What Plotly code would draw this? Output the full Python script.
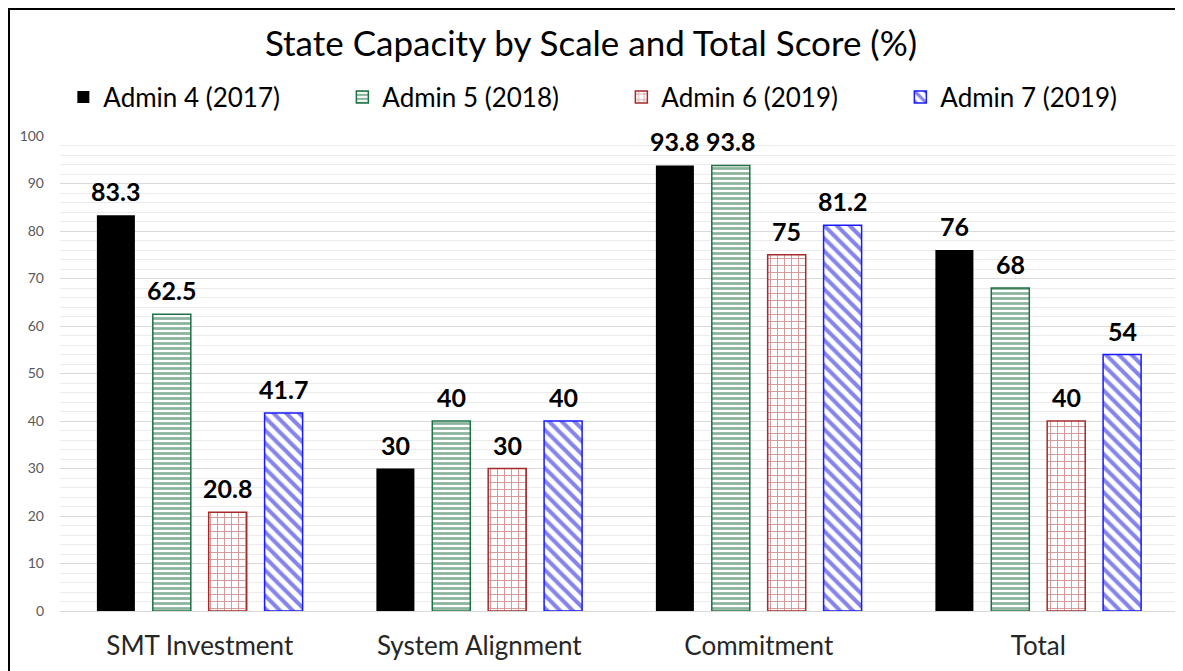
import plotly.graph_objects as go

categories = ["SMT Investment", "System Alignment", "Commitment", "Total"]
series_names = ["Admin 4 (2017)", "Admin 5 (2018)", "Admin 6 (2019)", "Admin 7 (2019)"]
admin4 = [83.3, 30, 93.8, 76]
admin5 = [62.5, 40, 93.8, 68]
admin6 = [20.8, 30, 75, 40]
admin7 = [41.7, 40, 81.2, 54]
y_ticks = [0, 10, 20, 30, 40, 50, 60, 70, 80, 90, 100]

FONT = "Lato"
values = [admin4, admin5, admin6, admin7]
styles = [
    dict(color="#000000", line=dict(color="#000000", width=0), pattern=None),
    dict(color="#ffffff", line=dict(color="#1e7145", width=1.5),
         pattern=dict(shape="-", fgcolor="#17683c", bgcolor="#ffffff", size=5, solidity=0.55, fillmode="overlay")),
    dict(color="#ffffff", line=dict(color="#a52a2a", width=1.5),
         pattern=dict(shape="+", fgcolor="#a32b2b", bgcolor="#ffffff", size=7, solidity=0.25, fillmode="overlay")),
    dict(color="#ffffff", line=dict(color="#1a1aff", width=1.5),
         pattern=dict(shape="\\", fgcolor="#0a0ad8", bgcolor="#ffffff", size=9, solidity=0.45, fillmode="overlay")),
]

BARGAP = 0.2
BARGROUPGAP = 0.32
n_series = len(values)
slot = (1 - BARGAP) / n_series

fig = go.Figure()
annotations = []
for si, (name, vals, st) in enumerate(zip(series_names, values, styles)):
    marker = dict(color=st["color"], line=st["line"])
    if st["pattern"] is not None:
        marker["pattern"] = st["pattern"]
    fig.add_trace(go.Bar(x=categories, y=vals, name=name, marker=marker))
    offset = -(1 - BARGAP) / 2 + slot * (si + 0.5)
    for ci, v in enumerate(vals):
        annotations.append(dict(
            x=ci + offset, y=v, xref="x", yref="y", text=str(v), showarrow=False,
            yanchor="bottom", xanchor="center", yshift=7,
            font=dict(family=FONT, size=25, color="#000000", weight="bold")))

# the page places the figure 8px from the top-left corner
W, H = 1175, 663
L, R, T, B = 52, 5, 128, 60
pw, ph = W - L - R, H - T - B

def px_x(p):
    return (p - L) / pw

def px_y(p):
    return (H - B - p) / ph

fig.update_layout(
    width=W, height=H,
    margin=dict(l=L, r=R, t=T, b=B),
    paper_bgcolor="white", plot_bgcolor="white",
    barmode="group", bargap=BARGAP, bargroupgap=BARGROUPGAP,
    font=dict(family=FONT, color="#000000"),
    title=dict(text="State Capacity by Scale and Total Score (%)",
               x=px_x(583), xref="paper", xanchor="center",
               y=1 - 36 / H, yanchor="middle",
               font=dict(family=FONT, size=35, color="#000000")),
    legend=dict(orientation="h", x=0.003, xanchor="left",
                y=px_y(89), yanchor="middle", yref="paper",
                font=dict(family=FONT, size=26, color="#000000"),
                entrywidth=234, entrywidthmode="pixels",
                itemwidth=30, bgcolor="rgba(0,0,0,0)"),
    showlegend=True,
    annotations=annotations,
    xaxis=dict(showgrid=False, showline=True, linecolor="#d9d9d9", linewidth=1,
               ticks="", tickfont=dict(family=FONT, size=26, color="#262626"),
               ticklabelstandoff=12, range=[-0.5, 3.5]),
    yaxis=dict(range=[0, 100], tickvals=y_ticks, showgrid=True, gridcolor="#d9d9d9",
               gridwidth=1, zeroline=False, showline=False, ticks="",
               tickfont=dict(family=FONT, size=14, color="#595959"),
               ticklabelstandoff=15,
               minor=dict(dtick=2, showgrid=True, gridcolor="#ebebeb", gridwidth=1)),
    shapes=[dict(type="rect", xref="paper", yref="paper",
                 x0=px_x(1), x1=px_x(W + 20), y0=px_y(H + 20), y1=px_y(1),
                 line=dict(color="#000000", width=2), fillcolor="rgba(0,0,0,0)",
                 layer="above")],
)

fig.write_html("out.html")
